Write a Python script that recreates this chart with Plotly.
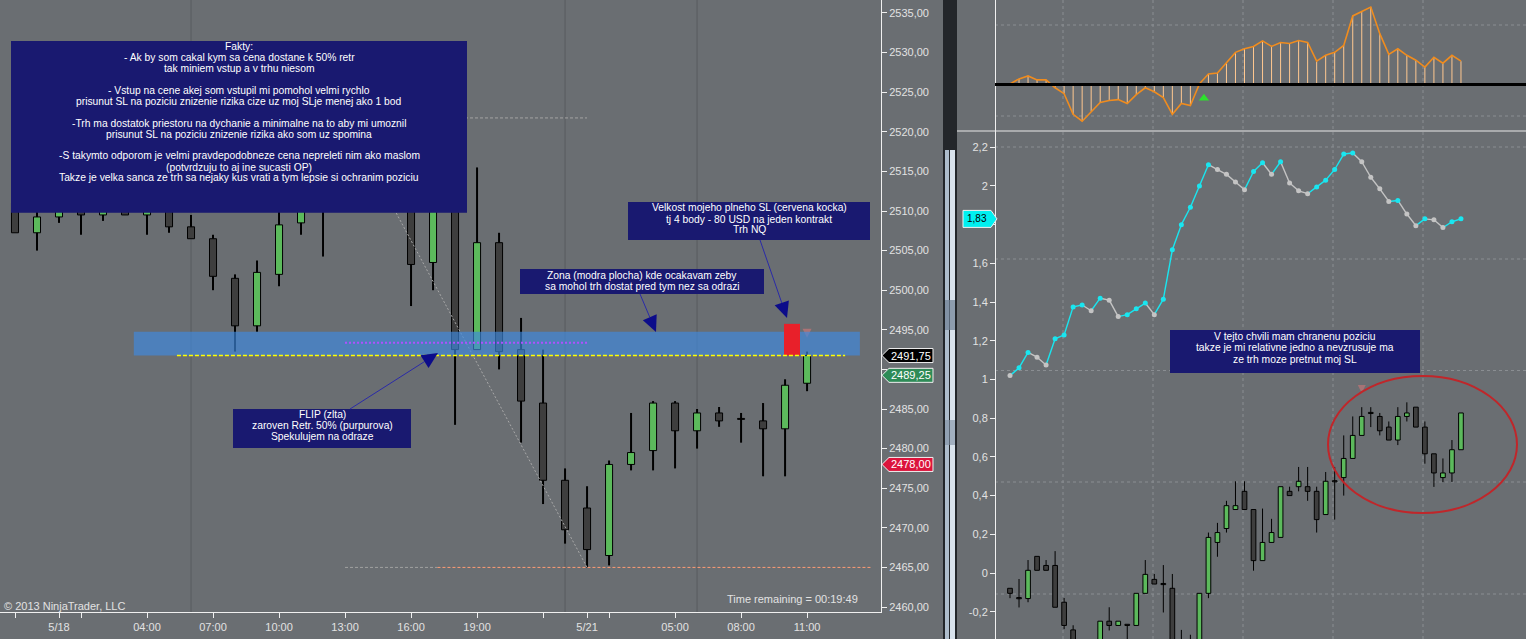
import math
import plotly.graph_objects as go

W, H = 1526, 639
BG = "#6a6e72"
NAVY = "#191970"
FONT = "Liberation Sans"
TICK_COL = "#e2e2e2"
UP = "#5cba5c"
DN = "#3e3e3e"
TXT_SIZE = 10.3

# ================= DATA =================
# Left chart: NQ hourly bars
bar_index = list(range(37))
l_open = [2511.00, 2507.25, 2509.25, 2511.50, 2509.50, 2511.25, 2509.50, 2510.50, 2508.00, 2506.50,
          2501.50, 2495.50, 2502.00, 2508.50, 2511.50, 2515.00, 2518.00, 2514.00, 2511.50, 2503.50,
          2512.00, 2492.50, 2506.00, 2492.50, 2485.75, 2476.00, 2472.50, 2466.50, 2478.00, 2479.75,
          2485.75, 2482.25, 2484.50, 2483.75, 2483.50, 2482.50, 2488.25]
l_high = [2512.00, 2511.00, 2512.50, 2513.00, 2512.00, 2512.50, 2512.75, 2512.00, 2509.50, 2507.00,
          2502.00, 2503.75, 2510.50, 2513.50, 2516.00, 2521.75, 2520.50, 2515.50, 2512.50, 2514.00,
          2513.00, 2515.50, 2507.25, 2496.50, 2492.50, 2477.50, 2475.25, 2478.50, 2484.50, 2486.00,
          2486.00, 2485.00, 2485.25, 2484.50, 2485.75, 2488.75, 2492.25]
l_low = [2507.25, 2505.00, 2508.50, 2507.00, 2508.75, 2509.50, 2507.00, 2507.25, 2506.50, 2500.00,
         2492.25, 2494.75, 2500.50, 2507.00, 2504.25, 2513.50, 2512.50, 2510.50, 2498.00, 2500.00,
         2483.00, 2492.50, 2490.00, 2480.75, 2473.00, 2468.00, 2465.00, 2465.25, 2477.25, 2477.25,
         2477.50, 2480.00, 2482.75, 2480.75, 2476.50, 2476.50, 2487.25]
l_close = [2507.25, 2509.25, 2511.50, 2509.50, 2511.00, 2509.50, 2511.50, 2508.00, 2506.50, 2501.75,
           2495.50, 2502.25, 2508.25, 2512.00, 2515.00, 2518.00, 2514.00, 2511.50, 2503.25, 2512.50,
           2492.50, 2506.00, 2492.25, 2486.00, 2476.00, 2469.75, 2467.25, 2478.00, 2479.50, 2485.75,
           2482.25, 2484.50, 2483.50, 2483.75, 2482.50, 2488.00, 2491.75]

time_tick_idx = [0, 2, 3, 6, 9, 12, 15, 18, 21, 24, 26, 27, 30, 33, 36]
time_tick_txt = ["", "5/18", "", "04:00", "07:00", "10:00", "13:00", "16:00", "19:00",
                 "", "5/21", "", "05:00", "08:00", "11:00"]
price_ticks = [2460, 2465, 2470, 2475, 2480, 2485, 2490, 2495, 2500, 2505, 2510, 2515,
               2520, 2525, 2530, 2535]
# 2490,00 is covered by the price markers in the original
price_tick_txt = ["2460,00", "2465,00", "2470,00", "2475,00", "2480,00", "2485,00", "",
                  "2495,00", "2500,00", "2505,00", "2510,00", "2515,00", "2520,00", "2525,00",
                  "2530,00", "2535,00"]

flip_level = 2491.75
zone_low, zone_high = 2491.75, 2494.75
sl_low, sl_high = 2491.75, 2495.75
fib_high, fib_low = 2521.75, 2465.00
fib_mid = 2493.375
fib_start_bar, fib_end_bar = 15, 26
label_black = (2491.75, "2491,75")
label_green = (2489.25, "2489,25")
label_red = (2478.00, "2478,00")

# Right chart: oscillator (top), cyan line + candles (bottom)
r_index = list(range(51))
osc = [0.02, 0.17, 0.26, 0.14, 0.14, -0.10, -0.28, -0.91, -1.12, -0.82, -0.55, -0.49, -0.46,
       -0.58, -0.31, -0.10, -0.22, -0.40, -0.91, -0.58, -0.64, 0.02, 0.32, 0.35, 0.65, 0.98,
       1.09, 1.16, 1.33, 1.16, 1.28, 1.25, 1.34, 1.28, 0.71, 0.89, 0.98, 1.19, 2.09, 2.22, 2.36,
       1.55, 0.92, 1.09, 0.89, 0.74, 0.53, 0.83, 0.65, 0.89, 0.71]
cyan_line = [1.02, 1.06, 1.14, 1.115, 1.075, 1.21, 1.23, 1.375, 1.385, 1.355, 1.42, 1.41, 1.325,
             1.335, 1.365, 1.395, 1.335, 1.415, 1.67, 1.80, 1.89, 2.00, 2.11, 2.085, 2.06, 2.02,
             1.98, 2.075, 2.12, 2.06, 2.125, 2.015, 1.975, 1.96, 1.995, 2.03, 2.085, 2.165, 2.17,
             2.125, 2.045, 1.985, 1.92, 1.925, 1.855, 1.795, 1.83, 1.825, 1.785, 1.815, 1.83]
r_open = [-0.079, -0.130, -0.132, 0.086, 0.039, 0.039, -0.151, -0.294, -0.400, -0.480,
          -0.400, -0.249, -0.271, -0.265, -0.271, -0.105, -0.033, -0.057, -0.079, -0.350,
          -0.360, -0.440, -0.105, 0.158, 0.230, 0.328, 0.422, 0.328, 0.064, 0.158,
          0.184, 0.422, 0.446, 0.446, 0.422, 0.302, 0.474, 0.493, 0.592, 0.711,
          0.827, 0.809, 0.754, 0.687, 0.809, 0.857, 0.754, 0.616, 0.493, 0.517, 0.637]
r_high = [-0.079, -0.031, 0.067, 0.086, 0.067, 0.113, -0.129, -0.270, -0.360, -0.360,
          -0.249, -0.177, -0.249, -0.265, -0.105, 0.067, -0.005, 0.041, -0.005, -0.294,
          -0.319, -0.105, 0.209, 0.259, 0.373, 0.474, 0.474, 0.328, 0.333, 0.280,
          0.446, 0.446, 0.548, 0.548, 0.446, 0.522, 0.548, 0.711, 0.809, 0.857,
          0.857, 0.827, 0.783, 0.857, 0.882, 0.857, 0.783, 0.616, 0.592, 0.687, 0.827]
r_low = [-0.130, -0.178, -0.151, 0.014, 0.014, -0.177, -0.290, -0.450, -0.500, -0.500,
         -0.420, -0.297, -0.271, -0.360, -0.271, -0.105, -0.057, -0.204, -0.450, -0.470,
         -0.480, -0.460, -0.130, 0.084, 0.209, 0.328, 0.328, 0.012, 0.064, 0.158,
         0.184, 0.400, 0.422, 0.373, 0.209, 0.302, 0.276, 0.400, 0.592, 0.711,
         0.754, 0.711, 0.687, 0.661, 0.783, 0.754, 0.565, 0.445, 0.470, 0.470, 0.637]
r_close = [-0.105, -0.130, 0.014, 0.014, 0.014, -0.177, -0.271, -0.400, -0.460, -0.380,
           -0.249, -0.271, -0.249, -0.271, -0.105, -0.007, -0.057, -0.057, -0.400, -0.420,
           -0.440, -0.105, 0.184, 0.209, 0.348, 0.348, 0.328, 0.064, 0.158, 0.209,
           0.446, 0.400, 0.474, 0.422, 0.276, 0.474, 0.474, 0.592, 0.711, 0.809,
           0.827, 0.735, 0.687, 0.809, 0.827, 0.754, 0.616, 0.517, 0.517, 0.637, 0.827]
r_ticks = [-0.2, 0, 0.2, 0.4, 0.6, 0.8, 1.0, 1.2, 1.4, 1.6, 1.8, 2.0, 2.2]
# 1,8 is covered by the value marker in the original
r_tick_txt = ["-0,2", "0", "0,2", "0,4", "0,6", "0,8", "1", "1,2", "1,4", "1,6", "", "2", "2,2"]
cyan_label = (1.83, "1,83")
signal_bar, signal_val = 21.5, -0.42

# ================= HELPERS =================
def PX(x):
    return x / W


def PY(y):
    return 1 - y / H


fig = go.Figure()
shapes = []
annotations = []


def add_candles(xs, o, h, l, c, xa, ya, body_w, wick_w, eps):
    wx, wy = [], []
    base, hgt, cols = [], [], []
    for x, oo, hh, ll, cc in zip(xs, o, h, l, c):
        top, bot = max(oo, cc), min(oo, cc)
        if hh > top:
            wx += [x, x, None]
            wy += [top, hh, None]
        if ll < bot:
            wx += [x, x, None]
            wy += [bot, ll, None]
        d = top - bot
        if d < eps:
            base.append(top - eps / 2)
            hgt.append(eps)
        else:
            base.append(bot)
            hgt.append(d)
        cols.append(UP if cc > oo else DN)
    fig.add_trace(go.Scatter(x=wx, y=wy, mode="lines", line=dict(color="black", width=wick_w),
                             xaxis=xa, yaxis=ya, hoverinfo="skip", showlegend=False))
    fig.add_trace(go.Bar(x=list(xs), y=hgt, base=base, width=body_w,
                         marker=dict(color=cols, line=dict(color="black", width=1)),
                         xaxis=xa, yaxis=ya, hoverinfo="skip", showlegend=False))


def prect(x0, y0, x1, y1, fill, line_col=None, lw=0, layer="above", opacity=1):
    shapes.append(dict(type="rect", xref="paper", yref="paper", x0=PX(x0), x1=PX(x1),
                       y0=PY(y1), y1=PY(y0), fillcolor=fill, opacity=opacity,
                       line=dict(color=line_col or fill, width=lw), layer=layer))


def pline(x0, y0, x1, y1, col, lw=1, dash="solid", layer="above"):
    shapes.append(dict(type="line", xref="paper", yref="paper", x0=PX(x0), x1=PX(x1),
                       y0=PY(y0), y1=PY(y1), line=dict(color=col, width=lw, dash=dash), layer=layer))


def poly(pts, fill, line_col=None, lw=0):
    path = "M " + " L ".join(f"{PX(x):.5f},{PY(y):.5f}" for x, y in pts) + " Z"
    shapes.append(dict(type="path", xref="paper", yref="paper", path=path, fillcolor=fill,
                       line=dict(color=line_col or fill, width=lw), layer="above"))


def arrow(tail, tip, L=16, hw=7.5):
    dx, dy = tip[0] - tail[0], tip[1] - tail[1]
    n = math.hypot(dx, dy)
    ux, uy = dx / n, dy / n
    bx, by = tip[0] - L * ux, tip[1] - L * uy
    pline(tail[0], tail[1], bx, by, "#2a2aa8", 1)
    poly([tip, (bx - hw * uy, by + hw * ux), (bx + hw * uy, by - hw * ux)], "#0c0c8a")


def text(x, y, s, size=TXT_SIZE, color="white", xanchor="center"):
    annotations.append(dict(x=PX(x), y=PY(y), xref="paper", yref="paper", text=s, showarrow=False,
                            font=dict(family=FONT, size=size, color=color), xanchor=xanchor,
                            yanchor="middle"))


def dline(x0, y0, x1, y1, col, lw=1, dash="solid", xref="x", yref="y", layer="above"):
    shapes.append(dict(type="line", xref=xref, yref=yref, x0=x0, x1=x1, y0=y0, y1=y1,
                       line=dict(color=col, width=lw, dash=dash), layer=layer))


# ================= LEFT CHART =================
for b in (8, 25, 31):
    shapes.append(dict(type="line", xref="x", yref="paper", x0=b, x1=b, y0=PY(612), y1=1,
                       line=dict(color="#585c60", width=1), layer="below"))

add_candles(bar_index, l_open, l_high, l_low, l_close, "x", "y", 0.32, 2, 0.12)

# fib / levels
dline(fib_start_bar, fib_high, fib_end_bar, fib_high, "#a4a4a4", 1, "3px,2px")
dline(fib_start_bar, fib_high, fib_end_bar, fib_low, "#a8a8a8", 1, "2px,2px")
dline(fib_start_bar, fib_low, 19.2, fib_low, "#a0a0a0", 1, "3px,2px")
dline(19.2, fib_low, 38.9, fib_low, "#ff9c74", 1, "3px,2px")
# blue zone
shapes.append(dict(type="rect", xref="x", yref="y", x0=5.4, x1=38.4, y0=zone_low, y1=zone_high,
                   fillcolor="rgb(62,138,225)", opacity=0.66, line=dict(width=0), layer="above"))
# red SL box
shapes.append(dict(type="rect", xref="x", yref="y", x0=34.95, x1=35.68, y0=sl_low, y1=sl_high,
                   fillcolor="#e8202a", line=dict(width=0), layer="above"))
dline(7.36, flip_level, 37.73, flip_level, "#ffff00", 1.4, "4px,2px")
dline(fib_start_bar, fib_mid, fib_end_bar, fib_mid, "#b050ff", 2, "2px,2px")

# trade marker
fig.add_trace(go.Scatter(x=[36], y=[2494.0], mode="markers",
                         marker=dict(symbol="arrow-down", size=9, color="rgba(225,120,120,0.55)"),
                         xaxis="x", yaxis="y", hoverinfo="skip", showlegend=False))

# Text boxes
prect(11, 41, 467, 212.7, NAVY)
fakty = [
    (46, "Fakty:"),
    (57.3, "- Ak by som cakal kym sa cena dostane k 50% retr"),
    (68.3, "tak miniem vstup a v trhu niesom"),
    (90.7, "- Vstup na cene akej som vstupil mi pomohol velmi rychlo"),
    (101.7, "prisunut SL na poziciu znizenie rizika cize uz moj SLje menej ako 1 bod"),
    (123.7, "-Trh ma dostatok priestoru na dychanie a minimalne na to aby mi umoznil"),
    (134.7, "prisunut SL na poziciu znizenie rizika ako som uz spomina"),
    (156, "-S takymto odporom je velmi pravdepodobneze cena nepreleti nim ako maslom"),
    (167, "(potvrdzuju to aj ine sucasti OP)"),
    (177.7, "Takze je velka sanca ze trh sa nejaky kus vrati a tym lepsie si ochranim poziciu"),
]
for y, s in fakty:
    text(239, y, s)

prect(628, 202, 870, 240, NAVY)
for y, s in [(207.7, "Velkost mojeho plneho SL (cervena kocka)"),
             (219, "tj 4 body - 80 USD na jeden kontrakt"),
             (230, "Trh NQ")]:
    text(749, y, s)
arrow((760, 240), (787, 318))

prect(520, 269, 764, 294, NAVY)
for y, s in [(275.3, "Zona (modra plocha) kde ocakavam zeby"),
             (286, "sa mohol trh dostat pred tym nez sa odrazi")]:
    text(642, y, s)
arrow((640, 294), (656, 332))

prect(233, 409, 411, 448, NAVY)
for y, s in [(414, "FLIP (zlta)"), (425.7, "zaroven Retr. 50% (purpurova)"),
             (436.7, "Spekulujem na odraze")]:
    text(322, y, s)
arrow((350, 409), (438, 353))

text(860, 599, "Time remaining = 00:19:49", 11, TICK_COL, "right")
text(2, 606, "© 2013 NinjaTrader, LLC", 11, TICK_COL, "left")

# price labels on right axis
y_of = lambda p: 607 - (p - 2460) * 7.92
for (p, s), col in [(label_black, "#000000"), (label_green, "#2e8b57"), (label_red, "#dc143c")]:
    yc = y_of(p)
    poly([(882, yc), (889, yc - 7), (933, yc - 7), (933, yc + 7), (889, yc + 7)], col, "#f0f0f0", 1)
    text(911, yc, s, 11, "white")

# ================= SEPARATOR =================
prect(943, 0, 957, 639, "#23262a")
prect(945, 150, 949, 639, "#aebdcc")
prect(950, 150, 955, 639, "#d8e2ec")
prect(945, 300, 955, 330, "#6e7f93", opacity=0.7)
prect(945, 420, 955, 445, "#7d8ea2", opacity=0.6)

# ================= RIGHT CHART =================
for x in (1063, 1153, 1243, 1333, 1423):
    pline(x, 0, x, 639, "#8a8e92", 1, "dot", "below")
for y in (25, 116, 147, 259, 370.5, 482, 594):
    pline(995, y, 1526, y, "#8a8e92", 1, "dot", "below")

# top oscillator
sx, sy = [], []
for k, v in zip(r_index, osc):
    sx += [k, k, None]
    sy += [0, v, None]
fig.add_trace(go.Scatter(x=sx, y=sy, mode="lines", line=dict(color="#ffc890", width=1),
                         xaxis="x2", yaxis="y2", hoverinfo="skip", showlegend=False))
fig.add_trace(go.Scatter(x=r_index, y=osc, mode="lines", line=dict(color="#f08c1e", width=1.6),
                         xaxis="x2", yaxis="y2", hoverinfo="skip", showlegend=False))
shapes.append(dict(type="line", xref="paper", yref="y2", x0=PX(995), x1=1, y0=0, y1=0,
                   line=dict(color="black", width=3), layer="above"))
fig.add_trace(go.Scatter(x=[signal_bar], y=[signal_val], mode="markers",
                         marker=dict(symbol="triangle-up", size=9, color="#2de02d"),
                         xaxis="x2", yaxis="y2", hoverinfo="skip", showlegend=False))
pline(957, 131, 1526, 131, "#e8e8e8", 1.2)

# bottom candles
add_candles(r_index, r_open, r_high, r_low, r_close, "x3", "y3", 0.52, 1, 0.006)

# cyan / gray line
cx, cy, gx, gy, mcol = [], [], [], [], ["#c4c4c4"]
for i in range(1, len(cyan_line)):
    if cyan_line[i] > cyan_line[i - 1]:
        cx += [i - 1, i, None]
        cy += [cyan_line[i - 1], cyan_line[i], None]
        mcol.append("#19e6f0")
    else:
        gx += [i - 1, i, None]
        gy += [cyan_line[i - 1], cyan_line[i], None]
        mcol.append("#c4c4c4")
fig.add_trace(go.Scatter(x=gx, y=gy, mode="lines", line=dict(color="#c4c4c4", width=1.4),
                         xaxis="x3", yaxis="y3", hoverinfo="skip", showlegend=False))
fig.add_trace(go.Scatter(x=cx, y=cy, mode="lines", line=dict(color="#19e6f0", width=1.4),
                         xaxis="x3", yaxis="y3", hoverinfo="skip", showlegend=False))
fig.add_trace(go.Scatter(x=r_index, y=cyan_line, mode="markers", marker=dict(color=mcol, size=5),
                         xaxis="x3", yaxis="y3", hoverinfo="skip", showlegend=False))
fig.add_trace(go.Scatter(x=[39], y=[0.93], mode="markers",
                         marker=dict(symbol="arrow-down", size=8, color="rgba(225,120,120,0.5)"),
                         xaxis="x3", yaxis="y3", hoverinfo="skip", showlegend=False))

# red ellipse
shapes.append(dict(type="circle", xref="paper", yref="paper", x0=PX(1328), x1=PX(1517),
                   y0=PY(513), y1=PY(376), line=dict(color="#c0262a", width=2), layer="above"))

# right annotation box
prect(1170, 330, 1420, 373, NAVY)
for y, s in [(336, "V tejto chvili mam chranenu poziciu"),
             (347.5, "takze je mi relativne jedno a nevzrusuje ma"),
             (359, "ze trh moze pretnut moj SL")]:
    text(1295, y, s)

# cyan value label
yc = 573 - 193.5 * cyan_label[0]
poly([(963, yc - 8.5), (991, yc - 8.5), (997, yc), (991, yc + 8.5), (963, yc + 8.5)],
     "#00f0f0", "#f0f0f0", 1)
text(977, yc, cyan_label[1], 10, "black")

# ================= LAYOUT =================
tickfont = dict(family=FONT, size=11, color=TICK_COL)
fig.update_layout(
    width=W, height=H, autosize=False,
    margin=dict(l=0, r=0, t=0, b=0, pad=0),
    paper_bgcolor=BG, plot_bgcolor=BG,
    barmode="overlay", showlegend=False,
    xaxis=dict(domain=[0, PX(881)], range=[-0.682, 39.36], anchor="y",
               tickvals=time_tick_idx, ticktext=time_tick_txt, ticks="outside", ticklen=5,
               tickcolor="#f0f0f0", showline=True, linecolor="#f0f0f0", linewidth=1,
               showgrid=False, zeroline=False, tickfont=tickfont),
    yaxis=dict(domain=[PY(612), 1], range=[2459.37, 2536.64], anchor="x", side="right",
               tickvals=price_ticks, ticktext=price_tick_txt, ticks="outside", ticklen=5,
               tickcolor="#f0f0f0", showline=True, linecolor="#f0f0f0", linewidth=1,
               showgrid=False, zeroline=False, tickfont=tickfont),
    xaxis2=dict(domain=[PX(957), 1], range=[-5.876, 57.21], anchor="y2", visible=False),
    yaxis2=dict(domain=[PY(131), 1], range=[-1.418, 2.576], anchor="free", position=PX(995),
                showline=True, linecolor="#f0f0f0", showticklabels=False, ticks="",
                showgrid=False, zeroline=False),
    xaxis3=dict(domain=[PX(957), 1], range=[-5.876, 57.21], anchor="y3", visible=False),
    yaxis3=dict(domain=[0, PY(131)], range=[-0.341, 2.284], anchor="free", position=PX(995),
                side="left", tickvals=r_ticks, ticktext=r_tick_txt, ticks="outside", ticklen=5,
                tickcolor="#f0f0f0", showline=True, linecolor="#f0f0f0", showgrid=False,
                zeroline=False, tickfont=tickfont),
    shapes=shapes,
    annotations=annotations,
)

fig.write_html("out.html", config={"displayModeBar": False},
               post_script="document.body.style.margin='0px';document.body.style.overflow='hidden';")
